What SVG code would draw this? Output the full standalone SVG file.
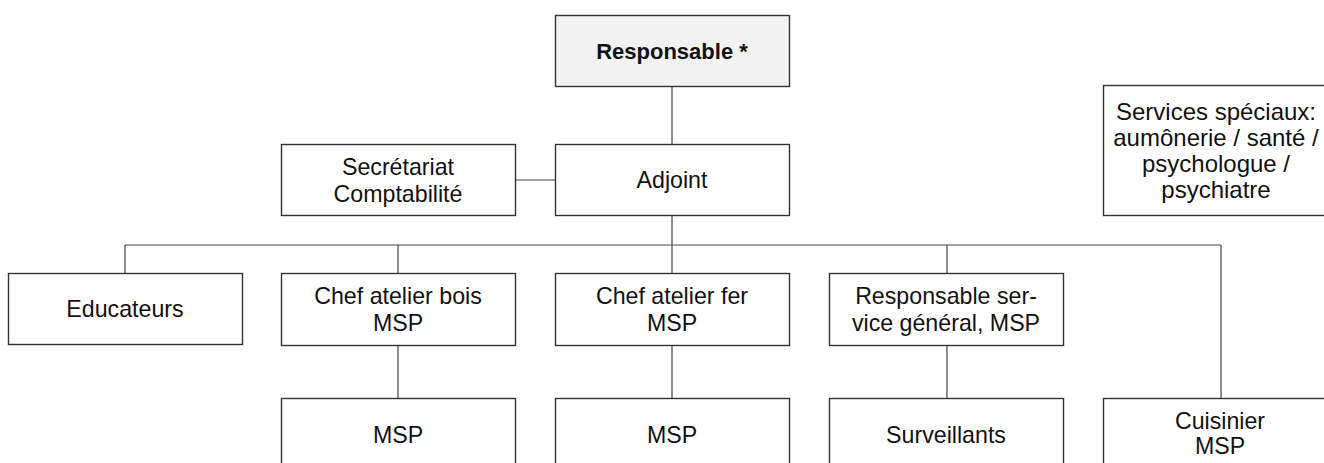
<svg xmlns="http://www.w3.org/2000/svg" width="1324" height="463" viewBox="0 0 1324 463">
<style>
.box{fill:#ffffff;stroke:#333333;stroke-width:1.4}
.top{fill:#f2f2f2;stroke:#333333;stroke-width:1.4}
.t{font-family:"Liberation Sans",Arial,sans-serif;font-size:23.2px;fill:#111111;text-anchor:middle}
.b{font-weight:bold;font-size:22px}
.s{font-size:24px}
.c{stroke:#444444;stroke-width:1.2;fill:none}
</style>
<rect width="1324" height="463" fill="#ffffff"/>
<g id="connectors">
<line class="c" x1="672" y1="86" x2="672" y2="144"/>
<line class="c" x1="515" y1="180" x2="555" y2="180"/>
<line class="c" x1="672" y1="215" x2="672" y2="245"/>
<line class="c" x1="125" y1="245" x2="1221" y2="245"/>
<line class="c" x1="125" y1="245" x2="125" y2="273"/>
<line class="c" x1="398" y1="245" x2="398" y2="273"/>
<line class="c" x1="672" y1="245" x2="672" y2="273"/>
<line class="c" x1="947" y1="245" x2="947" y2="273"/>
<line class="c" x1="1221" y1="245" x2="1221" y2="398"/>
<line class="c" x1="398" y1="345" x2="398" y2="398"/>
<line class="c" x1="672" y1="345" x2="672" y2="398"/>
<line class="c" x1="947" y1="345" x2="947" y2="398"/>
</g>
<g id="responsable">
<rect class="top" x="555.5" y="15.5" width="234" height="71"/>
<text class="t b" x="672" y="59">Responsable *</text>
</g>
<g id="adjoint">
<rect class="box" x="555.5" y="144.5" width="234" height="71"/>
<text class="t" x="672" y="188">Adjoint</text>
</g>
<g id="secretariat">
<rect class="box" x="281.5" y="144.5" width="234" height="71"/>
<text class="t" x="398" y="175">Secrétariat</text>
<text class="t" x="398" y="202">Comptabilité</text>
</g>
<g id="services">
<rect class="box" x="1103.5" y="85.5" width="234" height="130"/>
<text class="t s" x="1216" y="120">Services spéciaux:</text>
<text class="t s" x="1216" y="146">aumônerie / santé /</text>
<text class="t s" x="1216" y="172">psychologue /</text>
<text class="t s" x="1216" y="198">psychiatre</text>
</g>
<g id="educateurs">
<rect class="box" x="8.5" y="273.5" width="234" height="71"/>
<text class="t" x="125" y="317">Educateurs</text>
</g>
<g id="chef-bois">
<rect class="box" x="281.5" y="273.5" width="234" height="72"/>
<text class="t" x="398" y="304">Chef atelier bois</text>
<text class="t" x="398" y="331">MSP</text>
</g>
<g id="chef-fer">
<rect class="box" x="555.5" y="273.5" width="234" height="72"/>
<text class="t" x="672" y="304">Chef atelier fer</text>
<text class="t" x="672" y="331">MSP</text>
</g>
<g id="resp-service">
<rect class="box" x="829.5" y="273.5" width="234" height="72"/>
<text class="t" x="946" y="304">Responsable ser-</text>
<text class="t" x="946" y="331">vice général, MSP</text>
</g>
<g id="msp-bois">
<rect class="box" x="281.5" y="398.5" width="234" height="80"/>
<text class="t" x="398" y="443">MSP</text>
</g>
<g id="msp-fer">
<rect class="box" x="555.5" y="398.5" width="234" height="80"/>
<text class="t" x="672" y="443">MSP</text>
</g>
<g id="surveillants">
<rect class="box" x="829.5" y="398.5" width="234" height="80"/>
<text class="t" x="946" y="443">Surveillants</text>
</g>
<g id="cuisinier">
<rect class="box" x="1103.5" y="398.5" width="234" height="80"/>
<text class="t" x="1220" y="429">Cuisinier</text>
<text class="t" x="1220" y="454">MSP</text>
</g>
</svg>
